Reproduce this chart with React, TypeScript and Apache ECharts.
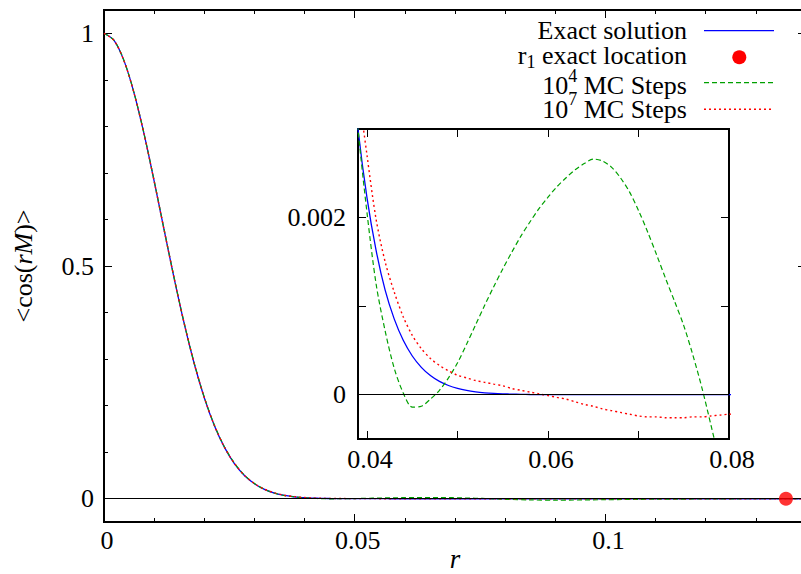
import React, { useEffect, useRef } from 'react';
import * as echarts from 'echarts';

// ---------- data ----------
const rValues = [
  0, 0.002, 0.004, 0.006, 0.008, 0.01, 0.012, 0.014, 0.016, 0.018, 0.02, 0.022, 0.024, 0.026, 0.028, 0.03, 0.032, 0.034, 0.036, 0.038,
  0.039, 0.04, 0.041, 0.042, 0.043, 0.044, 0.045, 0.046, 0.047, 0.048, 0.049,
  0.05, 0.051, 0.052, 0.053, 0.054, 0.055, 0.056, 0.057, 0.058, 0.059,
  0.06, 0.061, 0.062, 0.063, 0.064, 0.065, 0.066, 0.067, 0.068, 0.069,
  0.07, 0.071, 0.072, 0.073, 0.074, 0.075, 0.076, 0.077, 0.078, 0.079,
  0.08, 0.085, 0.09, 0.1, 0.11, 0.12, 0.13, 0.14,
];

const exactValues = [
  1, 0.9848, 0.9407, 0.8715, 0.7831, 0.6825, 0.5769, 0.473, 0.3761, 0.29, 0.217, 0.1574, 0.1108, 0.0756, 0.05, 0.0321, 0.02, 0.0121, 0.00708, 0.00402,
  0.003, 0.00222, 0.00163, 0.00118, 0.000856, 0.000614, 0.000437, 0.000309, 0.000216, 0.00015, 0.000104,
  0.0000712, 0.0000484, 0.0000327, 0.0000219, 0.0000145, 0.0000096, 0.0000063, 0.0000041, 0.0000026, 0.0000017,
  0.000001, 0, 0, 0, 0, 0, 0, 0, 0, 0,
  0, 0, 0, 0, 0, 0, 0, 0, 0, 0,
  0, 0, 0, 0, 0, 0, 0, 0,
];

const mc4Values = [
  1, 0.985, 0.941, 0.872, 0.7838, 0.6833, 0.5778, 0.474, 0.3771, 0.2911, 0.2181, 0.1585, 0.1118, 0.0766, 0.0508, 0.0326, 0.0202, 0.0119, 0.0067, 0.0042,
  0.003, 0.00205, 0.00125, 0.00072, 0.0003, 0.00002, -0.00014, -0.00013, -0.00005, 0.00005, 0.00019,
  0.00036, 0.00057, 0.00079, 0.00101, 0.00122, 0.00142, 0.00161, 0.00179, 0.00195, 0.0021,
  0.00223, 0.00235, 0.00245, 0.00254, 0.00261, 0.00266, 0.00264, 0.00257, 0.00245, 0.00229,
  0.00208, 0.00184, 0.00158, 0.00131, 0.00105, 0.00078, 0.00045, 0.00008, -0.00034, -0.00078,
  -0.00125, -0.0025, -0.003, -0.002, -0.001, -0.0005, 0, 0,
];

const mc7Values = [
  1, 0.9846, 0.9405, 0.8712, 0.7828, 0.6823, 0.5768, 0.4731, 0.3763, 0.2903, 0.2174, 0.1578, 0.1112, 0.076, 0.0504, 0.0325, 0.0204, 0.0126, 0.0076, 0.0046,
  0.0035, 0.0027, 0.00198, 0.0015, 0.00116, 0.00088, 0.00067, 0.00052, 0.00041, 0.00033, 0.00027,
  0.00022, 0.00019, 0.00016, 0.00014, 0.00012, 0.0001, 0.00007, 0.00005, 0.00003, 0.00001,
  -0.00001, -0.00003, -0.00005, -0.00008, -0.00011, -0.00013, -0.00016, -0.00018, -0.0002, -0.00022,
  -0.00024, -0.00025, -0.00025, -0.00026, -0.00026, -0.00026, -0.00025, -0.00025, -0.00024, -0.00023,
  -0.00022, -0.0002, -0.0001, 0, 0, 0, 0, 0,
];

const r1Location = [[0.136, 0]];

const seriesNames = ['Exact solution', 'r1 exact location', '10^4 MC Steps', '10^7 MC Steps'];

// tick / label values
const mainXMajor = [0, 0.05, 0.1];
const mainXMinor = [0.01, 0.02, 0.03, 0.04, 0.06, 0.07, 0.08, 0.09, 0.11, 0.12, 0.13];
const mainYMajor = [0, 0.5, 1];
const mainYMinor = [0.1, 0.2, 0.3, 0.4, 0.6, 0.7, 0.8, 0.9];
const insetXTicks = [0.04, 0.05, 0.06, 0.07, 0.08];
const insetXLabels = [0.04, 0.06, 0.08];
const insetYTicks = [0, 0.001, 0.002];
const insetYLabels = [0, 0.002];

// ---------- styling ----------
const FONT = 'Liberation Serif';
const FS = 26;
const BLUE = '#0000ff';
const GREEN = '#00a000';
const RED = '#ff0000';

const pairs = (ys: number[]) => rValues.map((r, i) => [r, ys[i]]);

function xAx(grid: number, min: number, max: number, pos: string, ticks: number[], len: number, labels?: number[], margin = 5, extra: any = {}) {
  return {
    type: 'value', gridIndex: grid, min, max, position: pos,
    axisLine: { show: false, onZero: false },
    splitLine: { show: false },
    axisTick: { show: true, inside: true, length: len, customValues: ticks, lineStyle: { color: '#000', width: 1 } },
    axisLabel: labels
      ? { show: true, customValues: labels, margin, color: '#000', fontFamily: FONT, fontSize: FS, padding: [0, 0, 0, 6], hideOverlap: false }
      : { show: false },
    ...extra,
  };
}
function yAx(grid: number, min: number, max: number, pos: string, ticks: number[], len: number, labels?: number[], margin = 10, extra: any = {}) {
  return {
    type: 'value', gridIndex: grid, min, max, position: pos,
    axisLine: { show: false, onZero: false },
    splitLine: { show: false },
    axisTick: { show: true, inside: true, length: len, customValues: ticks, lineStyle: { color: '#000', width: 1 } },
    axisLabel: labels
      ? { show: true, customValues: labels, margin, color: '#000', fontFamily: FONT, fontSize: FS, hideOverlap: false }
      : { show: false },
    ...extra,
  };
}

const zeroLine = {
  silent: true, symbol: 'none', animation: false,
  label: { show: false },
  lineStyle: { color: '#000', width: 1, type: 'solid' },
  emphasis: { disabled: true },
  data: [{ yAxis: 0 }],
};

function lineSeries(name: string, ys: number[], color: string, width: number, type: any, xi: number, yi: number, withZero: boolean) {
  return {
    type: 'line', name, xAxisIndex: xi, yAxisIndex: yi,
    data: pairs(ys), showSymbol: false, symbol: 'none', smooth: 0.3,
    lineStyle: { color, width, type },
    emphasis: { disabled: true },
    ...(withZero ? { markLine: zeroLine } : {}),
  };
}

const legendX = 687;
const legendRows = [30.7, 57.3, 82.7, 109.3];
const textBase = { fill: '#000', fontFamily: FONT, fontSize: FS, align: 'right', verticalAlign: 'middle' };
const richN = { fontFamily: FONT, fontSize: FS, verticalAlign: 'middle' };
const richSub = { fontFamily: FONT, fontSize: 18, verticalAlign: 'middle', padding: [14, 0, 0, 0] };
const richSup = { fontFamily: FONT, fontSize: 18, verticalAlign: 'middle', padding: [0, 0, 20, 0] };

const option: any = {
  animation: false,
  backgroundColor: '#fff',
  textStyle: { fontFamily: FONT },
  grid: [
    { left: 104, top: 10, right: -5, bottom: 52, show: true, borderColor: '#000', borderWidth: 2, backgroundColor: 'transparent', containLabel: false, outerBoundsMode: 'none' },
    { left: 358, top: 129, right: 72, bottom: 135, show: true, borderColor: '#000', borderWidth: 2, backgroundColor: '#fff', containLabel: false, outerBoundsMode: 'none' },
  ],
  xAxis: [
    xAx(0, 0, 0.14, 'bottom', mainXMajor, 8, mainXMajor, 5, {
      name: 'r', nameLocation: 'middle', nameGap: 26, nameMoveOverlap: false,
      nameTextStyle: { fontStyle: 'italic', fontFamily: FONT, fontSize: 27, lineHeight: 22, color: '#000' },
    }),
    xAx(0, 0, 0.14, 'bottom', mainXMinor, 4),
    xAx(0, 0, 0.14, 'top', mainXMajor, 8),
    xAx(0, 0, 0.14, 'top', mainXMinor, 4),
    xAx(1, 0.039, 0.08, 'bottom', insetXTicks, 8, insetXLabels, 7),
    xAx(1, 0.039, 0.08, 'top', insetXTicks, 8),
  ],
  yAxis: [
    yAx(0, -0.05, 1.05, 'left', mainYMajor, 8, mainYMajor, 10, {
      name: '<cos({i|rM})>', nameLocation: 'middle', nameGap: 68,
      nameTextStyle: {
        fontFamily: FONT, fontSize: FS, color: '#000',
        rich: { i: { fontStyle: 'italic', fontFamily: FONT, fontSize: FS, color: '#000' } },
      },
    }),
    yAx(0, -0.05, 1.05, 'left', mainYMinor, 4),
    yAx(0, -0.05, 1.05, 'right', mainYMajor, 8),
    yAx(0, -0.05, 1.05, 'right', mainYMinor, 4),
    yAx(1, -0.0005, 0.003, 'left', insetYTicks, 8, insetYLabels, 12),
    yAx(1, -0.0005, 0.003, 'right', insetYTicks, 8),
  ],
  series: [
    lineSeries(seriesNames[0], exactValues, BLUE, 1.3, 'solid', 0, 0, true),
    lineSeries(seriesNames[2], mc4Values, GREEN, 1.2, [5, 3], 0, 0, false),
    lineSeries(seriesNames[3], mc7Values, RED, 1.4, [2, 3], 0, 0, false),
    {
      type: 'scatter', name: seriesNames[1], xAxisIndex: 0, yAxisIndex: 0,
      data: r1Location, symbol: 'circle', symbolSize: 14,
      itemStyle: { color: RED }, emphasis: { disabled: true }, z: 5,
    },
    lineSeries(seriesNames[0], exactValues, BLUE, 1.3, 'solid', 4, 4, true),
    lineSeries(seriesNames[2], mc4Values, GREEN, 1.2, [5, 3], 4, 4, false),
    lineSeries(seriesNames[3], mc7Values, RED, 1.4, [2, 3], 4, 4, false),
  ],
  graphic: [
    { type: 'text', x: legendX, y: legendRows[0], style: { ...textBase, text: 'Exact solution' } },
    { type: 'line', shape: { x1: 704, y1: legendRows[0], x2: 774, y2: legendRows[0] }, style: { stroke: BLUE, lineWidth: 1.3 } },
    {
      type: 'text', x: legendX, y: legendRows[1] - 2,
      style: { ...textBase, text: '{n|r}{s|1}{n| exact location}', rich: { n: richN, s: richSub } },
    },
    { type: 'circle', shape: { cx: 739.3, cy: legendRows[1], r: 7 }, style: { fill: RED } },
    {
      type: 'text', x: legendX, y: legendRows[2] + 3,
      style: { ...textBase, text: '{n|10}{s|4}{n| MC Steps}', rich: { n: richN, s: richSup } },
    },
    { type: 'line', shape: { x1: 704, y1: legendRows[2], x2: 774, y2: legendRows[2] }, style: { stroke: GREEN, lineWidth: 1.2, lineDash: [5, 3] } },
    {
      type: 'text', x: legendX, y: legendRows[3],
      style: { ...textBase, text: '{n|10}{s|7}{n| MC Steps}', rich: { n: richN, s: richSup } },
    },
    { type: 'line', shape: { x1: 704, y1: legendRows[3], x2: 774, y2: legendRows[3] }, style: { stroke: RED, lineWidth: 1.4, lineDash: [2, 3] } },
  ],
};

export default function App() {
  const ref = useRef<HTMLDivElement>(null);
  useEffect(() => {
    const chart = echarts.init(ref.current as HTMLDivElement, null, { renderer: 'svg' });
    chart.setOption(option);
    return () => chart.dispose();
  }, []);
  return (
    <div
      ref={ref}
      style={{ position: 'fixed', left: 0, top: 0, width: 801, height: 574, background: '#fff' }}
    />
  );
}
